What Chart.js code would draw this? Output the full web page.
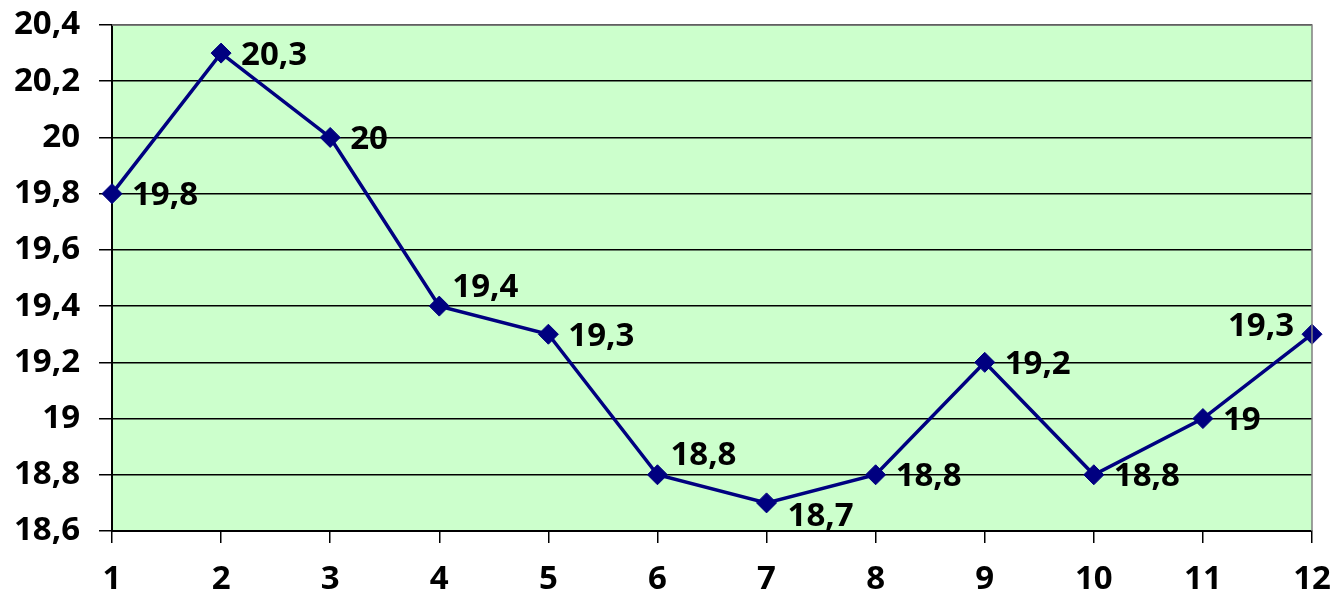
<!DOCTYPE html>
<html>
<head>
<meta charset="utf-8">
<script src="https://cdn.jsdelivr.net/npm/chart.js@4.4.0/dist/chart.umd.min.js"></script>
<style>
  html, body { margin: 0; padding: 0; background: #ffffff; }
  #wrap { width: 1334px; height: 605px; }
</style>
</head>
<body>
<div id="wrap"><canvas id="chart" width="1334" height="605"></canvas></div>
<script>
// Chart data
const categories = ['1', '2', '3', '4', '5', '6', '7', '8', '9', '10', '11', '12'];
const values = [19.8, 20.3, 20, 19.4, 19.3, 18.8, 18.7, 18.8, 19.2, 18.8, 19, 19.3];
const yTicks = [18.6, 18.8, 19, 19.2, 19.4, 19.6, 19.8, 20, 20.2, 20.4];

// where each value label sits relative to its point
const labelPlacement = ['right', 'right', 'right', 'aboveRight', 'right', 'aboveRight',
                        'belowRight', 'right', 'right', 'right', 'right', 'left'];

const FONT = '"Open Sans"';
const LABEL_FONT = { family: FONT, size: 33, weight: 'bold' };

function fmt(v) {
  return String(Math.round(v * 10) / 10).replace('.', ',');
}

// green plot background + grey frame on top/right
const plotArea = {
  id: 'plotArea',
  beforeDraw(chart) {
    const a = chart.chartArea, ctx = chart.ctx;
    ctx.save();
    ctx.fillStyle = '#ccffcc';
    ctx.fillRect(a.left, a.top, a.right - a.left, a.bottom - a.top);
    ctx.restore();
  },
  afterDatasetsDraw(chart) {
    const a = chart.chartArea, ctx = chart.ctx;
    ctx.save();
    ctx.strokeStyle = '#808080';
    ctx.lineWidth = 1.5;
    ctx.beginPath();
    ctx.moveTo(a.left, a.top);
    ctx.lineTo(a.right, a.top);
    ctx.lineTo(a.right, a.bottom);
    ctx.stroke();
    ctx.restore();
  }
};

// value labels next to points
const valueLabels = {
  id: 'valueLabels',
  afterDraw(chart) {
    const ctx = chart.ctx;
    const meta = chart.getDatasetMeta(0);
    ctx.save();
    ctx.font = 'bold ' + LABEL_FONT.size + 'px ' + FONT;
    ctx.fillStyle = '#000000';
    ctx.textBaseline = 'middle';
    meta.data.forEach((pt, i) => {
      const p = labelPlacement[i];
      let dx = 20, dy = 2;
      ctx.textAlign = 'left';
      if (p === 'aboveRight') { dx = 13; dy = -19; }
      if (p === 'belowRight') { dx = 21; dy = 14; }
      if (p === 'left') { dx = -18; dy = -8; ctx.textAlign = 'right'; }
      ctx.fillText(fmt(values[i]), pt.x + dx, pt.y + dy);
    });
    ctx.restore();
  }
};

new Chart(document.getElementById('chart').getContext('2d'), {
  type: 'line',
  data: {
    labels: categories,
    datasets: [{
      data: values,
      borderColor: '#000080',
      backgroundColor: '#000080',
      borderWidth: 3.5,
      tension: 0,
      fill: false,
      pointStyle: 'rectRot',
      pointRadius: 10,
      pointBackgroundColor: '#000080',
      pointBorderColor: '#000080',
      pointBorderWidth: 1
    }]
  },
  options: {
    responsive: false,
    animation: false,
    layout: { padding: { top: 25, right: 22, bottom: 0, left: 0 } },
    plugins: {
      legend: { display: false },
      tooltip: { enabled: false }
    },
    scales: {
      x: {
        offset: false,
        grid: {
          drawOnChartArea: false,
          drawTicks: true,
          tickLength: 12,
          color: '#000000',
          lineWidth: 1.5
        },
        border: { color: '#000000', width: 2 },
        ticks: {
          color: '#000000',
          padding: 17,
          maxRotation: 0,
          font: LABEL_FONT
        },
        afterFit(scale) {
          scale.height = 74;
          scale.paddingLeft = 0;
          scale.paddingRight = 0;
        }
      },
      y: {
        min: 18.6,
        max: 20.4,
        afterBuildTicks(scale) {
          scale.ticks = yTicks.map(v => ({ value: v }));
        },
        grid: {
          color: '#000000',
          lineWidth: 1.5,
          tickLength: 13
        },
        border: { color: '#000000', width: 2 },
        ticks: {
          color: '#000000',
          padding: 19,
          font: LABEL_FONT,
          callback: v => fmt(v)
        },
        afterFit(scale) {
          scale.width = 112;
          scale.paddingTop = 0;
          scale.paddingBottom = 0;
        }
      }
    }
  },
  plugins: [plotArea, valueLabels]
});
</script>
</body>
</html>
